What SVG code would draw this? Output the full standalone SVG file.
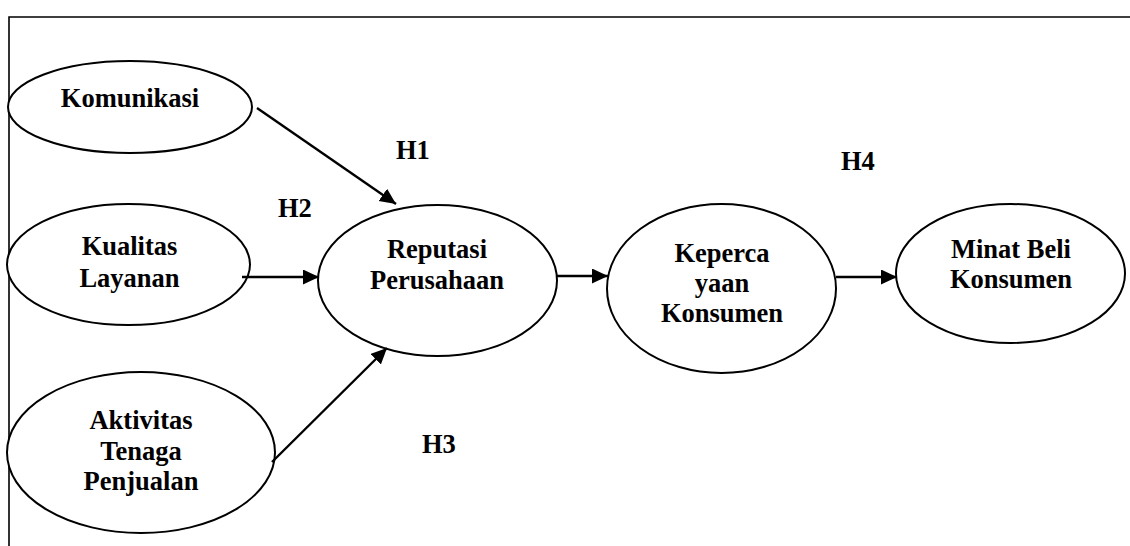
<svg xmlns="http://www.w3.org/2000/svg" width="1130" height="546" viewBox="0 0 1130 546">
<defs>
<style>
.node ellipse{fill:#fff;stroke:#000;stroke-width:2}
text{font-family:"Liberation Serif","Times New Roman",serif;font-weight:bold;font-size:26.5px;fill:#000;text-anchor:middle}
.lbl{text-anchor:start}
.conn line{stroke:#000;stroke-width:2.4;fill:none}
.frame{stroke:#000;stroke-width:1.6;fill:none}
</style>
<marker id="arr" markerUnits="userSpaceOnUse" markerWidth="18" markerHeight="16" refX="16" refY="7.5" orient="auto">
<path d="M0,0 L16,7.5 L0,15 z" fill="#000"/>
</marker>
</defs>
<rect width="1130" height="546" fill="#fff"/>
<path class="frame" d="M9,546 L9,17 L1130,17"/>
<g id="komunikasi" class="node">
<ellipse cx="130" cy="107" rx="122" ry="46"/>
<text x="130" y="107">Komunikasi</text>
</g>
<g id="kualitas" class="node">
<ellipse cx="128.5" cy="264.5" rx="121.5" ry="60.5"/>
<text x="129.5" y="255">Kualitas</text>
<text x="129.5" y="287">Layanan</text>
</g>
<g id="aktivitas" class="node">
<ellipse cx="141" cy="452.5" rx="134" ry="80.5"/>
<text x="141" y="429">Aktivitas</text>
<text x="141" y="460">Tenaga</text>
<text x="141" y="490">Penjualan</text>
</g>
<g id="reputasi" class="node">
<ellipse cx="437.5" cy="280.5" rx="119.5" ry="75.5"/>
<text x="437" y="258">Reputasi</text>
<text x="437" y="289">Perusahaan</text>
</g>
<g id="kepercayaan" class="node">
<ellipse cx="721.5" cy="288.5" rx="114.5" ry="84.5"/>
<text x="722" y="262">Keperca</text>
<text x="722" y="292">yaan</text>
<text x="722" y="322">Konsumen</text>
</g>
<g id="minat" class="node">
<ellipse cx="1010.5" cy="273.5" rx="114.5" ry="69.5"/>
<text x="1011" y="258">Minat Beli</text>
<text x="1011" y="288">Konsumen</text>
</g>
<g id="connectors" class="conn">
<line x1="257" y1="108" x2="396" y2="204" marker-end="url(#arr)"/>
<line x1="242" y1="277" x2="319" y2="277" marker-end="url(#arr)"/>
<line x1="272" y1="462" x2="387" y2="348" marker-end="url(#arr)"/>
<line x1="556" y1="276" x2="608" y2="276" marker-end="url(#arr)"/>
<line x1="836" y1="277" x2="897" y2="277" marker-end="url(#arr)"/>
</g>
<g id="labels">
<text class="lbl" x="396" y="159">H1</text>
<text class="lbl" x="278" y="217">H2</text>
<text class="lbl" x="422" y="453">H3</text>
<text class="lbl" x="841" y="170">H4</text>
</g>
</svg>
